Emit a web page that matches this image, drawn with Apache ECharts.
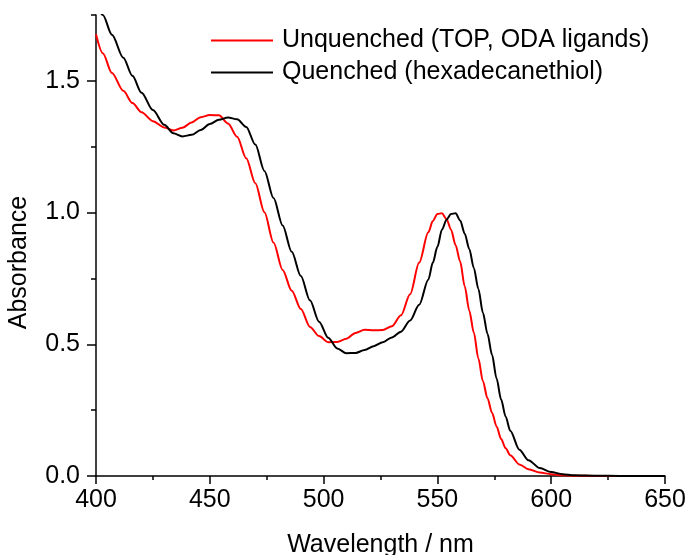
<!DOCTYPE html>
<html>
<head>
<meta charset="utf-8">
<script src="https://cdn.jsdelivr.net/npm/echarts@6/dist/echarts.min.js"></script>
<style>
html,body{margin:0;padding:0;background:#fff;}
#chart{width:688px;height:555px;}
</style>
</head>
<body>
<div id="chart"></div>
<script>
const wavelengths = [400,403,407,412,416,420,425,430,434,438,442,446,450,454,458,462,466,470,474,478,482,486,490,494,498,502,506,510,514,518,522,526,530,534,538,542,546,548,550,552,554,556,558,560,562,564,566,568,570,572,574,576,578,580,582,586,590,595,600,605,610,620,630,640,650];
const unquenched = [1.677,1.605,1.530,1.462,1.416,1.381,1.347,1.323,1.312,1.322,1.342,1.362,1.370,1.369,1.338,1.288,1.206,1.111,1.001,0.886,0.782,0.703,0.634,0.566,0.531,0.508,0.509,0.521,0.543,0.555,0.553,0.554,0.568,0.610,0.690,0.810,0.925,0.968,0.995,0.997,0.976,0.935,0.876,0.814,0.720,0.628,0.545,0.446,0.360,0.295,0.240,0.188,0.140,0.105,0.079,0.044,0.026,0.013,0.007,0.003,0.001,0,0,0,0];
const quenched = [1.800,1.750,1.675,1.588,1.519,1.455,1.389,1.333,1.301,1.289,1.295,1.313,1.336,1.352,1.361,1.354,1.325,1.258,1.158,1.055,0.951,0.851,0.759,0.667,0.586,0.525,0.484,0.466,0.467,0.478,0.493,0.508,0.526,0.548,0.590,0.650,0.745,0.810,0.870,0.935,0.973,0.995,0.997,0.970,0.920,0.862,0.790,0.710,0.620,0.540,0.460,0.370,0.290,0.225,0.172,0.100,0.060,0.030,0.015,0.007,0.003,0.001,0,0,0,0];
const seriesNames = ['Unquenched (TOP, ODA ligands)', 'Quenched (hexadecanethiol)'];
const yMajorTicks = [0, 0.5, 1.0, 1.5];
const yMinorTicks = [0.25, 0.75, 1.25, 1.75];

const FONT = 'Liberation Sans, Arial, sans-serif';
const chart = echarts.init(document.getElementById('chart'), null, {renderer: 'canvas'});
const pairs = (ys) => wavelengths.map((x, i) => [x, ys[i]]);

chart.setOption({
  animation: false,
  backgroundColor: '#ffffff',
  grid: {left: 96, right: 23, top: 15, bottom: 79, containLabel: false, outerBoundsMode: 'none'},
  legend: {
    orient: 'vertical',
    left: 206,
    top: 23,
    icon: 'rect',
    itemWidth: 62,
    itemHeight: 2,
    itemGap: 7,
    textStyle: {fontFamily: FONT, fontSize: 25, color: '#000', padding: [0, 0, 0, 4]},
    data: seriesNames
  },
  xAxis: {
    type: 'value',
    min: 400, max: 650, interval: 50,
    name: 'Wavelength / nm',
    nameLocation: 'middle',
    nameGap: 57,
    nameTextStyle: {fontFamily: FONT, fontSize: 25, color: '#000', verticalAlign: 'top'},
    axisLine: {show: true, onZero: false, lineStyle: {color: '#000', width: 1.5}},
    axisTick: {show: true, inside: false, length: 8, lineStyle: {color: '#000', width: 1.5}},
    minorTick: {show: true, splitNumber: 2, length: 4, lineStyle: {color: '#000', width: 1.5}},
    axisLabel: {fontFamily: FONT, fontSize: 25, color: '#000', margin: 12},
    splitLine: {show: false}
  },
  yAxis: [{
    type: 'value',
    min: 0, max: 1.75, interval: 0.25,
    name: 'Absorbance',
    nameLocation: 'middle',
    nameGap: 64,
    nameTextStyle: {fontFamily: FONT, fontSize: 25, color: '#000', padding: [0, 34, 0, 0]},
    axisLine: {show: true, onZero: false, lineStyle: {color: '#000', width: 1.5}},
    axisTick: {show: true, inside: false, length: 9, customValues: yMajorTicks, lineStyle: {color: '#000', width: 1.5}},
    axisLabel: {fontFamily: FONT, fontSize: 25, color: '#000', margin: 16, customValues: yMajorTicks,
      formatter: (v) => v.toFixed(1)},
    splitLine: {show: false}
  }, {
    type: 'value',
    position: 'left',
    min: 0, max: 1.75, interval: 0.25,
    axisLine: {show: false},
    axisTick: {show: true, inside: false, length: 5, customValues: yMinorTicks, lineStyle: {color: '#000', width: 1.5}},
    axisLabel: {show: false},
    splitLine: {show: false}
  }],
  series: [{
    name: seriesNames[0],
    type: 'line',
    data: pairs(unquenched),
    symbol: 'none',
    smooth: 0.3,
    smoothMonotone: 'x',
    clip: true,
    lineStyle: {color: '#ff0000', width: 2},
    itemStyle: {color: '#ff0000'}
  }, {
    name: seriesNames[1],
    type: 'line',
    data: pairs(quenched),
    symbol: 'none',
    smooth: 0.3,
    smoothMonotone: 'x',
    clip: true,
    lineStyle: {color: '#000000', width: 2},
    itemStyle: {color: '#000000'}
  }]
});
</script>
</body>
</html>
